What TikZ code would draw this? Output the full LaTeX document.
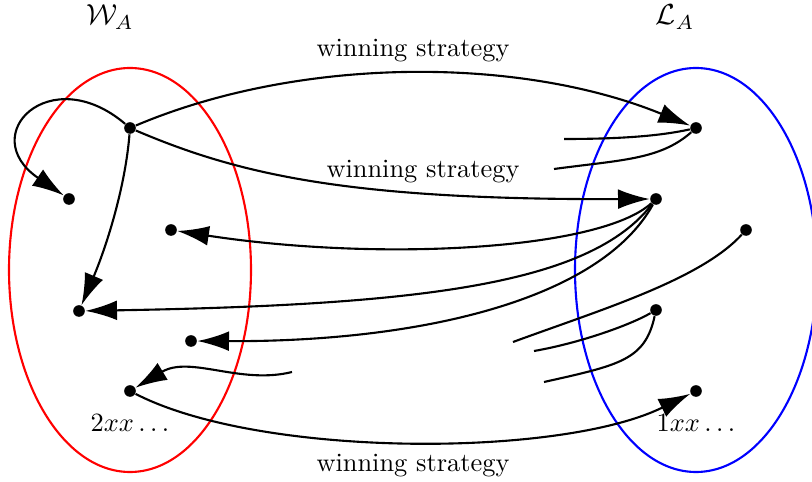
\documentclass[tikz,border=0pt]{standalone}
\usetikzlibrary{arrows.meta}
\begin{document}
\begin{tikzpicture}[x=0.01332cm,y=-0.01332cm,
  dot/.style={circle,fill=black,inner sep=0pt,minimum size=4.4pt},
  conn/.style={line width=0.8pt},
  arr/.style={conn,-{Latex[length=12pt,width=7.5pt]}},
  lbl/.style={anchor=base,inner sep=0pt}]
\useasboundingbox (0,0) rectangle (812,482);
\clip (0,0) rectangle (812,482);
% sets
\draw[red,line width=0.8pt] (130,270) ellipse [x radius=121, y radius=202];
\draw[blue,line width=0.8pt] (696,270) ellipse [x radius=121, y radius=202];
\node[lbl,scale=1.1] (wa) at (110,25) {$\mathcal{W}_A$};
\node[lbl,scale=1.1] (la) at (675,25) {$\mathcal{L}_A$};
% points in W_A
\node[dot] (a) at (130,128) {};
\node[dot] (b) at (69,199) {};
\node[dot] (c) at (171,230) {};
\node[dot] (d) at (79,311) {};
\node[dot] (e) at (191,341) {};
\node[dot] (f) at (130,391) {};
% points in L_A
\node[dot] (g) at (696,128) {};
\node[dot] (h) at (656,199) {};
\node[dot] (i) at (746,230) {};
\node[dot] (j) at (656,310) {};
\node[dot] (k) at (696,391) {};
% labels
\node[lbl] (t1) at (413,57) {winning strategy};
\node[lbl] (t2) at (423,178) {winning strategy};
\node[lbl] (t3) at (413,471) {winning strategy};
\node[lbl] (s2) at (130,432) {$2xx\ldots$};
\node[lbl] (s1) at (696,432) {$1xx\ldots$};
% free ends
\coordinate (p1) at (564,139);
\coordinate (p2) at (554,169);
\coordinate (p3) at (513,342);
\coordinate (p4) at (534,351);
\coordinate (p5) at (544,382);
\coordinate (p6) at (292,372);
% connectors
\draw[arr] (a) .. controls (300,56) and (520,56) .. (g);
\draw[arr] (a) .. controls (50,60) and (-25,135) .. (b);
\draw[arr] (a) .. controls (240,175) and (350,200) .. (h);
\draw[arr] (a) .. controls (125,190) and (105,250) .. (d);
\draw[arr] (h) .. controls (600,250) and (380,262) .. (c);
\draw[arr] (h) .. controls (590,285) and (420,305) .. (d);
\draw[arr] (h) .. controls (600,300) and (420,342) .. (e);
\draw[arr] (p6) .. controls (240,385) and (190,355) .. (f);
\draw[arr] (f) .. controls (260,458) and (560,458) .. (k);
\draw[conn] (p1) .. controls (620,139) and (660,136) .. (g);
\draw[conn] (p2) .. controls (620,160) and (660,160) .. (g);
\draw[conn] (p3) .. controls (600,310) and (700,280) .. (i);
\draw[conn] (p4) .. controls (580,343) and (630,325) .. (j);
\draw[conn] (p5) .. controls (620,365) and (645,360) .. (j);
\end{tikzpicture}
\end{document}
